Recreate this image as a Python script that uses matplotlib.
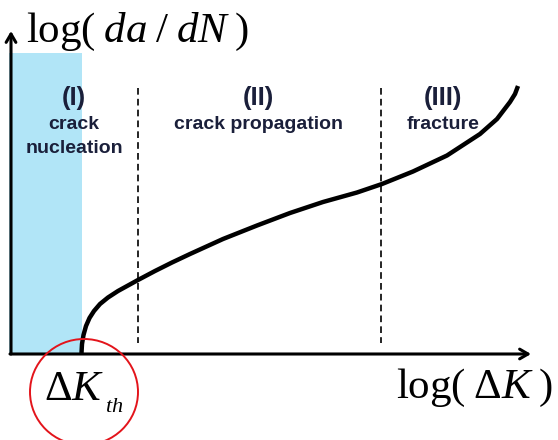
import matplotlib
matplotlib.use("Agg")
import matplotlib.pyplot as plt
from matplotlib.patches import Rectangle, Ellipse

plt.rcParams['mathtext.fontset'] = 'custom'
plt.rcParams['mathtext.rm'] = 'Liberation Serif'
plt.rcParams['mathtext.it'] = 'Liberation Serif:italic'

# ---- data (schematic) ----
curve_x = [81.5, 82, 83.5, 86, 89.5, 94, 100, 108, 118, 128, 138, 155, 172,
           190, 223, 257, 290, 323, 357, 382, 413, 447, 480, 497, 510, 515, 518]
curve_y = [353, 344, 335, 326, 318, 311, 304, 297.5, 291, 285.5, 280, 271, 262.5,
           254, 239, 225.5, 213, 202, 192.5, 184, 171.5, 155.5, 134, 119, 102, 94, 86]
boundaries = [138, 381]
threshold_x = 81.5
region_numerals = ["(I)", "(II)", "(III)"]
region_names = [["crack", "nucleation"], ["crack propagation"], ["fracture"]]
region_centers = [74, 258, 443]
y_label = r'$\mathrm{log}(\;da\;/\;dN\;)$'
x_label = r'$\mathrm{log}(\;\Delta K\;)$'
th_main = r'$\Delta K$'
th_sub = r'$th$'

text_color = '#1a1f3a'

fig = plt.figure(figsize=(5.58, 4.40), dpi=100)
ax = fig.add_axes([0, 0, 1, 1])
ax.set_xlim(0, 558)
ax.set_ylim(440, 0)
ax.axis('off')

# blue nucleation band
ax.add_patch(Rectangle((9, 53), threshold_x - 9, 353 - 53,
                       facecolor='#b1e5f7', edgecolor='none', zorder=1))

# dashed boundaries
for b in boundaries:
    ax.plot([b, b], [88, 343], color='black', lw=1.2, ls=(0, (4, 2.5)), zorder=2)

# axes with arrows
ax.annotate('', xy=(11, 31), xytext=(11, 354),
            arrowprops=dict(arrowstyle='->,head_length=0.6,head_width=0.35',
                            lw=2.2, color='black', shrinkA=0, shrinkB=0), zorder=3)
ax.annotate('', xy=(531, 354), xytext=(10, 354),
            arrowprops=dict(arrowstyle='->,head_length=0.6,head_width=0.35',
                            lw=2.2, color='black', shrinkA=0, shrinkB=0), zorder=3)

# curve
ax.plot(curve_x, curve_y, color='black', lw=3.2, solid_capstyle='butt',
        solid_joinstyle='round', zorder=4)

# region labels
for cx, num, names in zip(region_centers, region_numerals, region_names):
    ax.text(cx, 105, num, ha='center', va='baseline', fontsize=18.5,
            fontweight='bold', family='Liberation Sans', color=text_color)
    for i, nm in enumerate(names):
        ax.text(cx, 129 + 24 * i, nm, ha='center', va='baseline', fontsize=14,
                fontweight='bold', family='Liberation Sans', color=text_color)

# axis labels
ax.text(26, 42, y_label, ha='left', va='baseline', fontsize=31, color='black')
ax.text(396, 398, x_label, ha='left', va='baseline', fontsize=31, color='black')
ax.text(44, 400, th_main, ha='left', va='baseline', fontsize=31, color='black')
ax.text(105, 412, th_sub, ha='left', va='baseline', fontsize=16, color='black')

# red circle around threshold
ax.add_patch(Ellipse((84, 392), 108, 106, facecolor='none',
                     edgecolor='#e3141b', lw=1.4, zorder=5))

fig.savefig('out.png', dpi=100)
